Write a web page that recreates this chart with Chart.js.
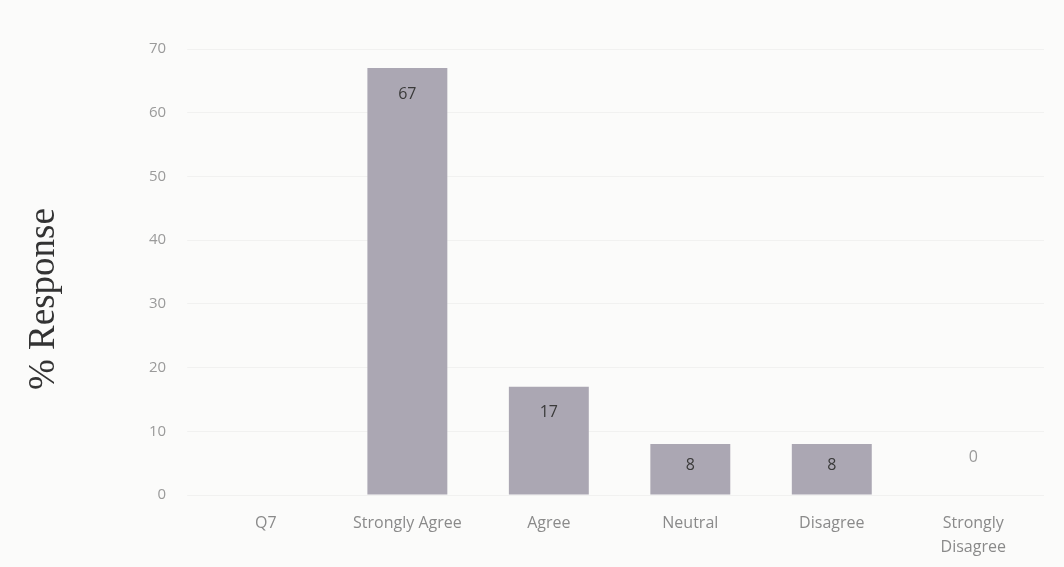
<!DOCTYPE html>
<html>
<head>
<meta charset="utf-8">
<script src="https://cdn.jsdelivr.net/npm/chart.js@4.4.0/dist/chart.umd.min.js"></script>
<style>
  html, body { margin: 0; padding: 0; background: #fbfbfa; }
  #wrap { width: 1064px; height: 567px; }
</style>
</head>
<body>
<div id="wrap"><canvas id="chart"></canvas></div>
<script>
const categories = ['Q7', 'Strongly Agree', 'Agree', 'Neutral', 'Disagree', ['Strongly', 'Disagree']];
const responses = [null, 67, 17, 8, 8, 0];
const yTicks = [0, 10, 20, 30, 40, 50, 60, 70];
const yTitle = '% Response';

// value labels drawn inside the bar top, or above when the bar is empty
const barLabels = {
  id: 'barLabels',
  afterDatasetsDraw(chart) {
    const ctx = chart.ctx;
    const meta = chart.getDatasetMeta(0);
    ctx.save();
    ctx.font = '16px "Open Sans", Lato, sans-serif';
    ctx.textAlign = 'center';
    ctx.textBaseline = 'middle';
    meta.data.forEach((bar, i) => {
      const v = responses[i];
      if (v === null) return;
      const h = bar.base - bar.y;
      if (v > 0) {
        ctx.fillStyle = '#3a3a3a';
        ctx.fillText(String(v), bar.x, bar.y + Math.min(26, h / 2 - 4));
      } else {
        ctx.fillStyle = '#9a9a9a';
        ctx.fillText(String(v), bar.x, bar.y - 38);
      }
    });
    ctx.restore();
  }
};

// the axis title sits a bit below the plot's middle in the original
const sideTitle = {
  id: 'sideTitle',
  afterDraw(chart) {
    const ctx = chart.ctx;
    ctx.save();
    ctx.translate(44, 299);
    ctx.rotate(-Math.PI / 2);
    ctx.font = '37px "Liberation Serif", "DejaVu Serif", serif';
    ctx.fillStyle = '#333';
    ctx.textAlign = 'center';
    ctx.textBaseline = 'middle';
    ctx.fillText(yTitle, 0, 0);
    ctx.restore();
  }
};

new Chart(document.getElementById('chart'), {
  type: 'bar',
  data: {
    labels: categories,
    datasets: [{
      data: responses,
      backgroundColor: '#aba7b3',
      borderWidth: 0,
      categoryPercentage: 1,
      barPercentage: 0.565
    }]
  },
  options: {
    responsive: true,
    maintainAspectRatio: false,
    animation: false,
    layout: { padding: { left: 128, right: 20, top: 49, bottom: 0 } },
    plugins: { legend: { display: false }, tooltip: { enabled: false } },
    scales: {
      x: {
        grid: { display: false },
        border: { display: false },
        ticks: {
          color: '#8a8a8a',
          font: { family: '"Open Sans", Lato, sans-serif', size: 16, lineHeight: 1.5 },
          maxRotation: 0,
          padding: 8
        }
      },
      y: {
        min: 0,
        max: 70,
        afterBuildTicks(axis) { axis.ticks = yTicks.map(v => ({ value: v })); },
        grid: { color: 'rgba(0,0,0,0.04)' },
        border: { display: false },
        ticks: {
          color: '#9a9a9a',
          font: { family: '"Open Sans", Lato, sans-serif', size: 15 },
          padding: 21
        }
      }
    }
  },
  plugins: [barLabels, sideTitle]
});
</script>
</body>
</html>
